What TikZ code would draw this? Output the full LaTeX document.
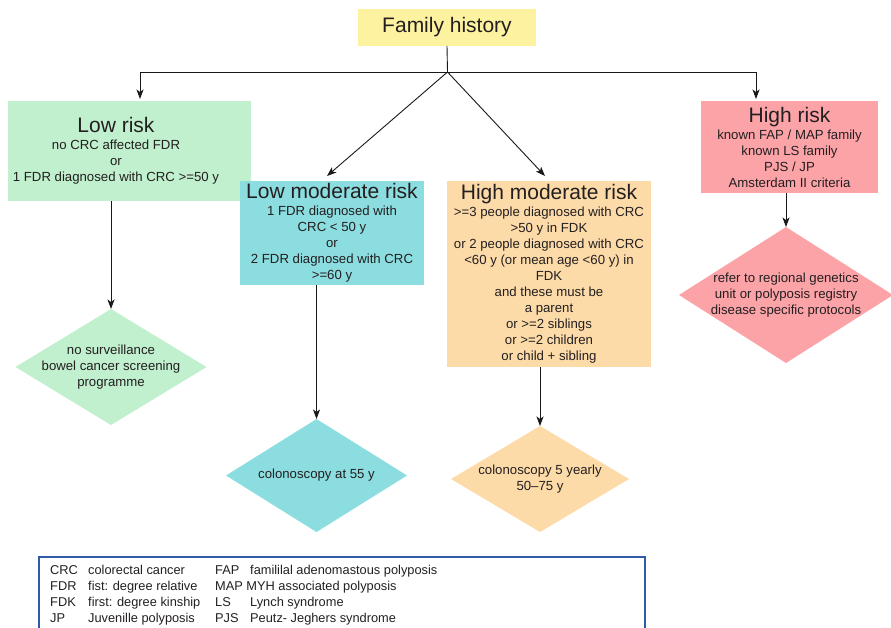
\documentclass[tikz,border=0pt]{standalone}
\usepackage{fontspec}
\setmainfont{Liberation Sans}
\usetikzlibrary{arrows.meta,shapes.geometric,calc}
\definecolor{cgreen}{HTML}{C0F0CD}
\definecolor{cteal}{HTML}{8CDDE0}
\definecolor{corange}{HTML}{FDDBA8}
\definecolor{cpink}{HTML}{FCA3A7}
\definecolor{cyellow}{HTML}{FDF2A0}
\definecolor{cblue}{HTML}{2E5AA8}
\definecolor{txt}{HTML}{231F20}
\begin{document}
\begin{tikzpicture}[x=1pt,y=-1pt,
  box/.style={rectangle, inner sep=0pt, outer sep=0pt, align=center, text=txt,
    font=\fontsize{13.2}{16}\selectfont},
  dia/.style={diamond, inner sep=0pt, outer sep=0pt},
  dtext/.style={align=center, text=txt, inner sep=0pt, font=\fontsize{13.2}{16}\selectfont},
  legtext/.style={anchor=base west, inner sep=0pt, text=txt, font=\fontsize{12.8}{16}\selectfont},
  arr/.style={draw=black!90, line width=0.9pt, -{Stealth[length=9.5pt,width=7pt,inset=2.5pt]}},
  ln/.style={draw=black!90, line width=0.9pt}]
\useasboundingbox (0,0) rectangle (891,627);

% boxes
\node[box, fill=cyellow, minimum width=178, minimum height=37,
  font=\fontsize{21}{24}\selectfont] (fam) at (447,27.5) {Family history};
\node[box, fill=cgreen, minimum width=243, minimum height=100] (low) at (129.5,151) {};
\node[dtext] (lowt) at ([xshift=-13.5pt]low.center)
  {{\fontsize{21}{21}\selectfont Low risk}\\[1pt] no CRC affected FDR\\ or\\ 1 FDR diagnosed with CRC >=50 y};
\node[box, fill=cteal, minimum width=184, minimum height=104] (lowmod) at (332,233)
  {{\fontsize{21}{21}\selectfont Low moderate risk}\\[1pt] 1 FDR diagnosed with\\ CRC < 50 y\\ or\\ 2 FDR diagnosed with CRC\\ >=60 y};
\node[box, fill=corange, minimum width=204, minimum height=186] (himod) at (549,274)
  {{\fontsize{21}{21}\selectfont High moderate risk}\\[1pt] >=3 people diagnosed with CRC\\ >50 y in FDK\\ or 2 people diagnosed with CRC\\ <60 y (or mean age <60 y) in\\ FDK\\ and these must be\\ a parent\\ or >=2 siblings\\ or >=2 children\\ or child + sibling};
\node[box, fill=cpink, minimum width=177, minimum height=92] (high) at (789.5,147)
  {{\fontsize{21}{21}\selectfont High risk}\\[1pt] known FAP / MAP family\\ known LS family\\ PJS / JP\\ Amsterdam II criteria};

% diamonds
\node[dia, fill=cgreen, minimum width=191, minimum height=116] (ld) at (111,367) {};
\node[dtext] (ldt) at (ld) {no surveillance\\ bowel cancer screening\\ programme};
\node[dia, fill=cteal, minimum width=181, minimum height=113] (lmd) at (316.5,475.5) {};
\node[dtext] (lmdt) at (lmd) {colonoscopy at 55 y};
\node[dia, fill=corange, minimum width=178, minimum height=106] (hmd) at (540,479) {};
\node[dtext] (hmdt) at (hmd) {colonoscopy 5 yearly\\ 50–75 y};
\node[dia, fill=cpink, minimum width=214, minimum height=136] (hd) at (786,295) {};
\node[dtext] (hdt) at (hd) {refer to regional genetics\\ unit or polyposis registry\\ disease specific protocols};

% connectors
\coordinate (j) at (447.5,72);
\draw[ln] (fam.south) -- (j);
\draw[arr] (j) -| ([xshift=10.5pt,yshift=2pt]low.north);
\draw[arr] (j) -| ([xshift=-33.5pt,yshift=2pt]high.north);
\draw[arr] (j) -- ([xshift=-5pt,yshift=5pt]lowmod.north);
\draw[arr] (j) -- ([xshift=-4pt,yshift=5pt]himod.north);
\draw[arr] (low.south -| ld.north) -- (ld.north);
\draw[arr] (lowmod.south -| lmd.north) -- (lmd.north);
\draw[arr] (himod.south -| hmd.north) -- (hmd.north);
\draw[arr] (high.south -| hd.north) -- (hd.north);

% legend
\node[draw=cblue, line width=1.6pt, minimum width=606, minimum height=90, anchor=north west, inner sep=0pt] (leg) at (38,556) {};
\node[legtext] (a1) at (50,574) {CRC};
\node[legtext] (b1) at (88,574) {colorectal cancer};
\node[legtext] (c1) at (215,574) {FAP};
\node[legtext] (d1) at (250,574) {famililal adenomastous polyposis};
\node[legtext] (a2) at (50,590) {FDR};
\node[legtext] (b2) at (88,590) {fist: degree relative};
\node[legtext] (c2) at (215,590) {MAP MYH associated polyposis};
\node[legtext] (a3) at (50,606) {FDK};
\node[legtext] (b3) at (88,606) {first: degree kinship};
\node[legtext] (c3) at (215,606) {LS};
\node[legtext] (d3) at (250,606) {Lynch syndrome};
\node[legtext] (a4) at (50,622) {JP};
\node[legtext] (b4) at (88,622) {Juvenille polyposis};
\node[legtext] (c4) at (215,622) {PJS};
\node[legtext] (d4) at (250,622) {Peutz- Jeghers syndrome};
\end{tikzpicture}
\end{document}
